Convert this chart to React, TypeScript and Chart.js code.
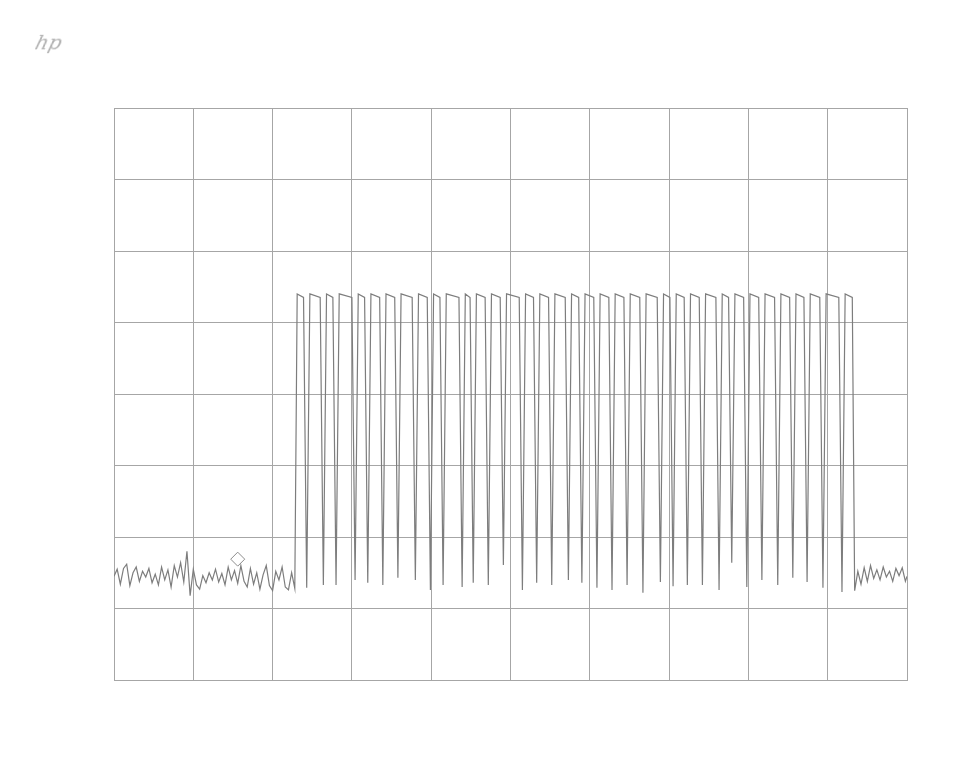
import React, { useEffect, useRef } from "react";
import { Chart, registerables } from "chart.js";

Chart.register(...registerables);

// Screen units: x in horizontal divisions (0–10), y in vertical divisions (0–8)
const xTicks = [0, 1, 2, 3, 4, 5, 6, 7, 8, 9, 10];
const yTicks = [0, 1, 2, 3, 4, 5, 6, 7, 8];

// Noise floor before the burst
const noiseLeftX = [
  0.0, 0.04, 0.08, 0.12, 0.16, 0.2, 0.24, 0.28, 0.32, 0.36, 0.4, 0.44, 0.48, 0.52, 0.56, 0.6, 0.64,
  0.68, 0.72, 0.76, 0.8, 0.84, 0.88, 0.92, 0.96, 1.0, 1.04, 1.08, 1.12, 1.16, 1.2, 1.24, 1.28, 1.32,
  1.36, 1.4, 1.44, 1.48, 1.52, 1.56, 1.6, 1.64, 1.68, 1.72, 1.76, 1.8, 1.84, 1.88, 1.92, 1.96, 2.0,
  2.04, 2.08, 2.12, 2.16, 2.2, 2.24, 2.28,
];
const noiseLeftY = [
  1.45, 1.55, 1.34, 1.56, 1.62, 1.32, 1.5, 1.58, 1.38, 1.52, 1.44, 1.56, 1.36, 1.48, 1.33, 1.58, 1.4,
  1.54, 1.3, 1.6, 1.44, 1.64, 1.37, 1.8, 1.18, 1.55, 1.33, 1.27, 1.46, 1.36, 1.5, 1.4, 1.55, 1.37,
  1.49, 1.33, 1.58, 1.4, 1.53, 1.35, 1.6, 1.38, 1.3, 1.56, 1.34, 1.5, 1.27, 1.47, 1.6, 1.32, 1.25,
  1.52, 1.4, 1.58, 1.3, 1.26, 1.5, 1.28,
];

// Pulse burst
const pulseStart = 2.31;
const pulseEnd = 9.31;
const pulseTop = 5.37;
const dipX = [
  2.43, 2.64, 2.8, 3.04, 3.2, 3.39, 3.58, 3.8, 3.99, 4.15, 4.39, 4.53, 4.72, 4.91, 5.15, 5.33, 5.52,
  5.73, 5.9, 6.09, 6.28, 6.47, 6.67, 6.89, 7.05, 7.23, 7.42, 7.63, 7.79, 7.98, 8.17, 8.37, 8.56, 8.74,
  8.94, 9.18,
];
const dipY = [
  1.29, 1.33, 1.33, 1.4, 1.36, 1.33, 1.43, 1.4, 1.26, 1.33, 1.3, 1.36, 1.33, 1.61, 1.26, 1.36, 1.33,
  1.4, 1.36, 1.29, 1.26, 1.33, 1.22, 1.37, 1.31, 1.33, 1.33, 1.26, 1.64, 1.3, 1.4, 1.33, 1.43, 1.37,
  1.29, 1.23,
];

// Noise floor after the burst
const noiseRightX = [9.34, 9.38, 9.42, 9.46, 9.5, 9.54, 9.58, 9.62, 9.66, 9.7, 9.74, 9.78, 9.82, 9.86, 9.9, 9.94, 9.98, 10.0];
const noiseRightY = [1.25, 1.52, 1.34, 1.57, 1.38, 1.6, 1.42, 1.54, 1.4, 1.58, 1.44, 1.52, 1.38, 1.56, 1.46, 1.57, 1.38, 1.45];

// Marker
const markerX = [1.56];
const markerY = [1.69];

export default function App() {
  const ref = useRef<HTMLCanvasElement>(null);

  useEffect(() => {
    document.body.style.margin = "0";
    document.body.style.background = "#ffffff";
    const edge = 0.04;
    const trace: { x: number; y: number }[] = [];
    noiseLeftX.forEach((x, i) => trace.push({ x, y: noiseLeftY[i] }));
    trace.push({ x: pulseStart, y: pulseTop + 0.03 });
    dipX.forEach((d, i) => {
      trace.push({ x: d - edge, y: pulseTop - 0.02 });
      trace.push({ x: d, y: dipY[i] });
      trace.push({ x: d + edge, y: pulseTop + 0.03 });
    });
    trace.push({ x: pulseEnd, y: pulseTop - 0.02 });
    noiseRightX.forEach((x, i) => trace.push({ x, y: noiseRightY[i] }));

    const marker = markerX.map((x, i) => ({ x, y: markerY[i] }));

    const chart = new Chart(ref.current!, {
      type: "scatter",
      data: {
        datasets: [
          {
            data: trace,
            showLine: true,
            borderColor: "#7d7d7d",
            borderWidth: 1.2,
            pointRadius: 0,
            tension: 0,
          },
          {
            data: marker,
            showLine: false,
            pointStyle: "rectRot",
            pointRadius: 7,
            borderColor: "#8c8c8c",
            backgroundColor: "rgba(0,0,0,0)",
            pointBorderWidth: 1,
          },
        ],
      },
      options: {
        responsive: false,
        animation: false,
        layout: { padding: { left: 114, top: 108, right: 52, bottom: 103 } },
        plugins: { legend: { display: false }, tooltip: { enabled: false } },
        scales: {
          x: {
            type: "linear",
            min: xTicks[0],
            max: xTicks[xTicks.length - 1],
            afterBuildTicks: (s: any) => {
              s.ticks = xTicks.map((v) => ({ value: v }));
            },
            ticks: { display: false },
            grid: { color: "#a6a6a6", lineWidth: 1, drawTicks: false },
            border: { display: true, color: "#a6a6a6" },
          },
          y: {
            type: "linear",
            min: yTicks[0],
            max: yTicks[yTicks.length - 1],
            afterBuildTicks: (s: any) => {
              s.ticks = yTicks.map((v) => ({ value: v }));
            },
            ticks: { display: false },
            grid: { color: "#a6a6a6", lineWidth: 1, drawTicks: false },
            border: { display: true, color: "#a6a6a6" },
          },
        },
      },
    });
    return () => chart.destroy();
  }, []);

  return (
    <div style={{ position: "relative", width: 959, height: 783, background: "#ffffff" }}>
      <div
        style={{
          position: "absolute",
          left: 36,
          top: 30,
          fontFamily: "'DejaVu Serif', serif",
          fontStyle: "italic",
          fontSize: 20,
          color: "#b0b0b0",
          transform: "skewX(-15deg)",
        }}
      >
        hp
      </div>
      <canvas ref={ref} width={959} height={783} style={{ display: "block", width: 959, height: 783 }} />
    </div>
  );
}
